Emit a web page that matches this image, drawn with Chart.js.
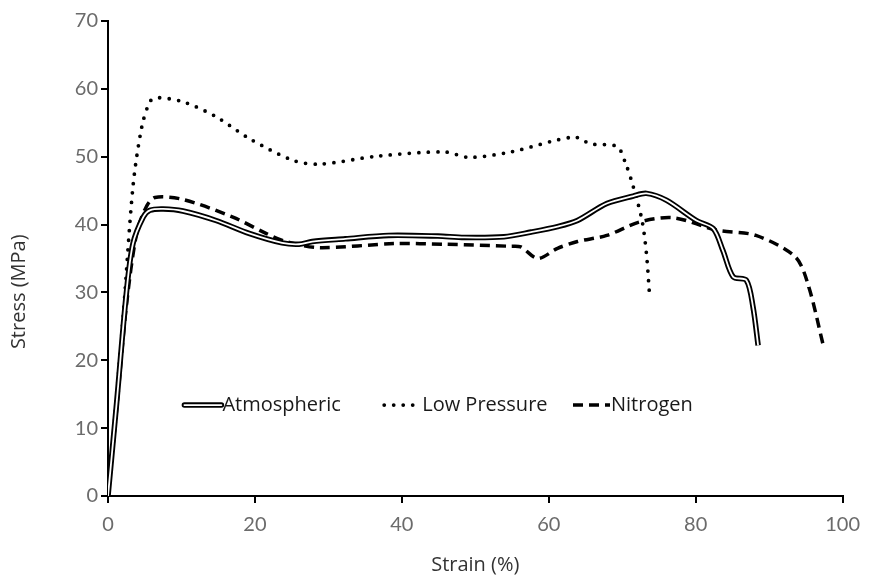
<!DOCTYPE html>
<html>
<head>
<meta charset="utf-8">
<script src="https://cdn.jsdelivr.net/npm/chart.js@4.4.0/dist/chart.umd.min.js"></script>
<style>
    html, body { margin: 0; padding: 0; background: #fff; }
    #wrap { width: 870px; height: 581px; }
</style>
</head>
<body>
<div id="wrap"><canvas id="chart" width="870" height="581"></canvas></div>
<script>
// ================== Data ==================
const seriesNames = ['Atmospheric', 'Low Pressure', 'Nitrogen'];

const atmStrain = [0, 1.2, 2.5, 3.4, 4.8, 5.7, 7.5, 10.2, 14.7, 19.2, 23.7, 26.0, 27.8, 32.3, 38.2, 44.9, 48.5, 53.9, 57.6, 61.2, 63.9, 67.9, 71.5, 73.3, 76.0, 80.1, 82.4, 83.7, 85.1, 86.9, 87.8, 88.5];
const atmStress = [0, 14.0, 29.9, 37.2, 41.1, 42.1, 42.3, 42.0, 40.6, 38.7, 37.3, 37.1, 37.5, 37.9, 38.4, 38.3, 38.1, 38.2, 38.9, 39.7, 40.6, 43.1, 44.2, 44.6, 43.6, 40.6, 39.4, 36.2, 32.3, 31.8, 27.9, 22.2];

const lowStrain = [0, 1.0, 2.1, 3.4, 4.6, 5.7, 6.6, 10.2, 14.7, 19.2, 25.1, 28.7, 36.8, 45.8, 49.2, 54.8, 63.4, 65.7, 69.3, 70.4, 71.5, 72.7, 73.3, 73.7];
const lowStress = [0, 12.5, 26.9, 45.6, 54.4, 58.1, 58.7, 58.1, 55.9, 52.7, 49.5, 48.9, 50.1, 50.7, 49.9, 50.7, 52.9, 51.9, 51.5, 49.2, 45.6, 40.6, 35.7, 29.9];

const nitStrain = [0, 1.2, 2.5, 3.9, 5.2, 6.4, 10.2, 17.0, 21.5, 24.2, 28.7, 39.1, 45.8, 54.8, 56.2, 58.5, 61.2, 63.9, 67.9, 72.4, 77.0, 82.8, 88.2, 93.6, 95.4, 97.3];
const nitStress = [0, 13.0, 28.0, 38.7, 42.6, 44.0, 43.7, 41.1, 38.7, 37.5, 36.6, 37.2, 37.1, 36.8, 36.7, 35.0, 36.5, 37.5, 38.4, 40.4, 41.0, 39.2, 38.4, 35.2, 30.8, 22.5];

const xTicks = [0, 20, 40, 60, 80, 100];
const yTicks = [0, 10, 20, 30, 40, 50, 60, 70];

function toPoints(xs, ys) {
    return xs.map((x, i) => ({ x: x, y: ys[i] }));
}

// ================== Legend + y title drawn inside the canvas ==================
const legendRow = { stress: 13.4, starts: [10.4, 37.6, 63.3], sample: 37 };
const yTitle = 'Stress (MPa)';

function drawSample(ctx, kind, x, y, w) {
    ctx.beginPath();
    ctx.moveTo(x, y);
    ctx.lineTo(x + w, y);
    ctx.strokeStyle = '#000';
    if (kind === 'double') {
        ctx.lineCap = 'round';
        ctx.setLineDash([]);
        ctx.lineWidth = 5.5;
        ctx.stroke();
        ctx.strokeStyle = '#fff';
        ctx.lineWidth = 1.8;
        ctx.stroke();
    } else if (kind === 'dot') {
        ctx.lineCap = 'round';
        ctx.setLineDash([0, 9.5]);
        ctx.lineWidth = 3.8;
        ctx.stroke();
    } else {
        ctx.lineCap = 'butt';
        ctx.setLineDash([10, 6]);
        ctx.lineWidth = 3.5;
        ctx.stroke();
    }
}

const insideLegend = {
    id: 'insideLegend',
    afterDraw(chart) {
        const ctx = chart.ctx;
        const xs = chart.scales.x;
        const area = chart.chartArea;
        const y = chart.scales.y.getPixelForValue(legendRow.stress);
        const kinds = ['double', 'dot', 'dash'];
        ctx.save();
        seriesNames.forEach((name, i) => {
            const x0 = xs.getPixelForValue(legendRow.starts[i]);
            drawSample(ctx, kinds[i], x0, y, legendRow.sample);
            ctx.setLineDash([]);
            ctx.font = '20px "Open Sans", sans-serif';
            ctx.fillStyle = '#1a1a1a';
            ctx.textBaseline = 'middle';
            ctx.textAlign = 'left';
            ctx.fillText(name, x0 + legendRow.sample + 1, y);
        });

        // y axis title, set a little below the middle of the plot like the reference
        ctx.translate(19, area.top + (area.bottom - area.top) * 0.57);
        ctx.rotate(-Math.PI / 2);
        ctx.font = '20px "Open Sans", sans-serif';
        ctx.fillStyle = '#333';
        ctx.textAlign = 'center';
        ctx.textBaseline = 'middle';
        ctx.fillText(yTitle, 0, 0);
        ctx.restore();
    }
};

// ================== Chart ==================
const tickFont = { family: 'Lato, "Open Sans", sans-serif', size: 20, weight: '400' };
const titleFont = { family: '"Open Sans", sans-serif', size: 20 };

new Chart(document.getElementById('chart'), {
    type: 'scatter',
    data: {
        datasets: [
            {
                label: seriesNames[0],
                data: toPoints(atmStrain, atmStress),
                showLine: true,
                borderColor: '#000',
                borderWidth: 5.5,
                pointRadius: 0,
                tension: 0.3,
                order: 2
            },
            {
                label: '',
                data: toPoints(atmStrain, atmStress),
                showLine: true,
                borderColor: '#fff',
                borderWidth: 1.8,
                pointRadius: 0,
                tension: 0.3,
                order: 1
            },
            {
                label: seriesNames[1],
                data: toPoints(lowStrain, lowStress),
                showLine: true,
                borderColor: '#000',
                borderWidth: 3.8,
                borderDash: [0, 9.5],
                borderCapStyle: 'round',
                pointRadius: 0,
                tension: 0.3,
                order: 4
            },
            {
                label: seriesNames[2],
                data: toPoints(nitStrain, nitStress),
                showLine: true,
                borderColor: '#000',
                borderWidth: 3.5,
                borderDash: [10, 6],
                pointRadius: 0,
                tension: 0.3,
                order: 3
            }
        ]
    },
    options: {
        responsive: false,
        animation: false,
        layout: { padding: { top: 21, right: 23, left: 0, bottom: 0 } },
        plugins: {
            legend: { display: false },
            tooltip: { enabled: false }
        },
        scales: {
            x: {
                type: 'linear',
                min: 0,
                max: 100,
                afterBuildTicks: s => { s.ticks = xTicks.map(v => ({ value: v })); },
                afterFit: s => { s.height = 85; },
                grid: { drawOnChartArea: false, color: '#000', lineWidth: 2, tickLength: 7 },
                border: { color: '#000', width: 2 },
                ticks: { color: '#6b6b6b', font: tickFont, padding: 10, maxRotation: 0 },
                title: { display: true, text: 'Strain (%)', color: '#333', font: titleFont, padding: { top: 0, bottom: 4 } }
            },
            y: {
                type: 'linear',
                min: 0,
                max: 70,
                afterBuildTicks: s => { s.ticks = yTicks.map(v => ({ value: v })); },
                afterFit: s => { s.width = 108; },
                grid: { drawOnChartArea: false, color: '#000', lineWidth: 2, tickLength: 7 },
                border: { color: '#000', width: 2 },
                ticks: { color: '#6b6b6b', font: tickFont, padding: 3 }
            }
        }
    },
    plugins: [insideLegend]
});
</script>
</body>
</html>
